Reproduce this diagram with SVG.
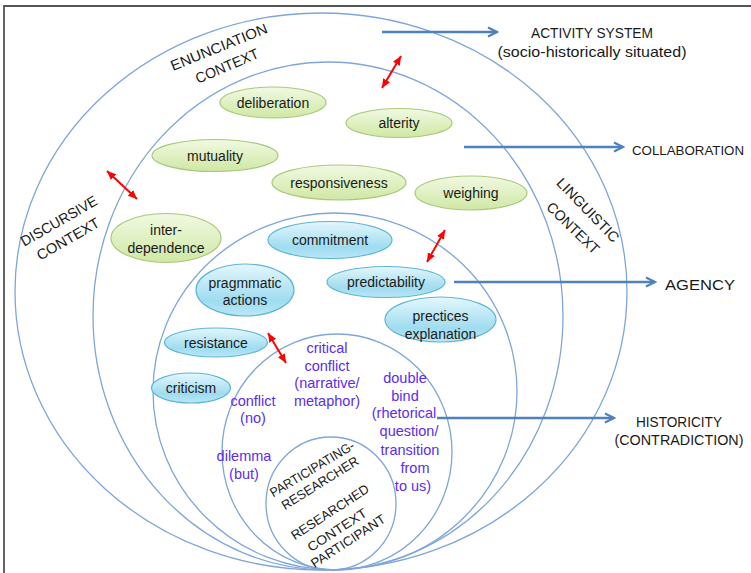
<svg xmlns="http://www.w3.org/2000/svg" width="751" height="573" viewBox="0 0 751 573">
<style>
  text { font-family: "Liberation Sans", Arial, sans-serif; fill: #1a1a1a; }
  .ring { fill: none; stroke: #7ea6d9; stroke-width: 1.3; }
  .green { fill: url(#gGreen); stroke: #a9c97a; stroke-width: 1.2; }
  .cyan { fill: url(#gCyan); stroke: #5fb6d2; stroke-width: 1.2; }
  .nt { font-size: 14px; text-anchor: middle; }
  .lbl { font-size: 15px; text-anchor: middle; }
  .rl { font-size: 14.5px; text-anchor: middle; }
  .in { font-size: 13px; text-anchor: middle; }
  .pt { font-size: 14.5px; text-anchor: middle; fill: #5b2cf2; }
  .blue { stroke: #4f81bd; stroke-width: 2.5; fill: none; marker-end: url(#mBlue); }
  .red { stroke: #ff0000; stroke-width: 2; fill: none; marker-start: url(#mRed); marker-end: url(#mRed); }
</style>
<defs>
  <linearGradient id="gGreen" x1="0" y1="0" x2="0" y2="1">
    <stop offset="0" stop-color="#f1f9e2"/>
    <stop offset="1" stop-color="#cfe8a4"/>
  </linearGradient>
  <linearGradient id="gCyan" x1="0" y1="0" x2="0" y2="1">
    <stop offset="0" stop-color="#e4f7fd"/>
    <stop offset="0.7" stop-color="#9fdcf0"/>
    <stop offset="1" stop-color="#b9e8f6"/>
  </linearGradient>
  <marker id="mBlue" markerUnits="userSpaceOnUse" viewBox="0 0 12 12" refX="10" refY="6" markerWidth="12" markerHeight="12" orient="auto">
    <path d="M1,1.5 L10,6 L1,10.5" fill="none" stroke="#4f81bd" stroke-width="2.2"/>
  </marker>
  <marker id="mRed" markerUnits="userSpaceOnUse" viewBox="0 0 10 10" refX="9" refY="5" markerWidth="10" markerHeight="10" orient="auto-start-reverse">
    <path d="M0,1 L9,5 L0,9 Z" fill="#ff0000"/>
  </marker>
</defs>
<rect width="751" height="573" fill="#ffffff"/>
<path d="M4,573 V6 H751" fill="none" stroke="#555555" stroke-width="1.8"/>

<g id="contexts">
  <ellipse id="enunciation-ring" class="ring" cx="321" cy="291.5" rx="306" ry="278.5"/>
  <ellipse id="discursive-ring" class="ring" cx="328" cy="316" rx="235" ry="254"/>
  <ellipse id="agency-ring" class="ring" cx="335" cy="391.5" rx="182" ry="178.5"/>
  <ellipse id="historicity-ring" class="ring" cx="337" cy="452" rx="115" ry="118"/>
  <ellipse id="researcher-ring" class="ring" cx="331" cy="503.5" rx="65" ry="66.5"/>
</g>

<g id="context-labels">
  <text class="rl" transform="translate(219,47) rotate(-22)" y="5" textLength="103" lengthAdjust="spacingAndGlyphs">ENUNCIATION</text>
  <text class="rl" transform="translate(227,66) rotate(-23)" y="5" textLength="67" lengthAdjust="spacingAndGlyphs">CONTEXT</text>
  <text class="rl" transform="translate(59,221) rotate(-30)" y="5" textLength="86" lengthAdjust="spacingAndGlyphs">DISCURSIVE</text>
  <text class="rl" transform="translate(68,239) rotate(-30)" y="5" textLength="70" lengthAdjust="spacingAndGlyphs">CONTEXT</text>
  <text class="rl" transform="translate(588,210) rotate(46)" y="5" textLength="83" lengthAdjust="spacingAndGlyphs">LINGUISTIC</text>
  <text class="rl" transform="translate(573,228) rotate(44)" y="5" textLength="67" lengthAdjust="spacingAndGlyphs">CONTEXT</text>
</g>

<g id="n-deliberation"><ellipse class="green" cx="273" cy="102.5" rx="53" ry="15.5"/><text class="nt" x="273" y="107.5">deliberation</text></g>
<g id="n-alterity"><ellipse class="green" cx="399" cy="123" rx="53" ry="14.5"/><text class="nt" x="399" y="128">alterity</text></g>
<g id="n-mutuality"><ellipse class="green" cx="215" cy="155.5" rx="63" ry="16"/><text class="nt" x="215" y="160.5">mutuality</text></g>
<g id="n-responsiveness"><ellipse class="green" cx="339" cy="182.5" rx="67" ry="17.5"/><text class="nt" x="339" y="187.5">responsiveness</text></g>
<g id="n-weighing"><ellipse class="green" cx="471" cy="193" rx="56" ry="17"/><text class="nt" x="471" y="198">weighing</text></g>
<g id="n-interdependence"><ellipse class="green" cx="166" cy="238" rx="55" ry="24.5"/><text class="nt" x="166" y="235">inter-</text><text class="nt" x="166" y="253">dependence</text></g>

<g id="n-commitment"><ellipse class="cyan" cx="330" cy="240" rx="62" ry="18.5"/><text class="nt" x="330" y="244.5">commitment</text></g>
<g id="n-pragmatic"><ellipse class="cyan" cx="245" cy="290" rx="49" ry="26"/><text class="nt" x="245" y="288">pragmmatic</text><text class="nt" x="245" y="305">actions</text></g>
<g id="n-predictability"><ellipse class="cyan" cx="386" cy="282" rx="59" ry="15.5"/><text class="nt" x="386" y="287">predictability</text></g>
<g id="n-prectices"><ellipse class="cyan" cx="440.5" cy="319.5" rx="55.5" ry="22.5"/><text class="nt" x="440.5" y="321">prectices</text><text class="nt" x="440.5" y="339">explanation</text></g>
<g id="n-resistance"><ellipse class="cyan" cx="216" cy="342.5" rx="51.5" ry="14.5"/><text class="nt" x="216" y="347.5">resistance</text></g>
<g id="n-criticism"><ellipse class="cyan" cx="191" cy="388" rx="39.5" ry="15"/><text class="nt" x="191" y="393">criticism</text></g>

<g id="n-critical-conflict">
  <text class="pt" x="327" y="353">critical</text>
  <text class="pt" x="327" y="370.5">conflict</text>
  <text class="pt" x="327" y="388">(narrative/</text>
  <text class="pt" x="327" y="405.5">metaphor)</text>
</g>
<g id="n-conflict"><text class="pt" x="253" y="405.5">conflict</text><text class="pt" x="253" y="423">(no)</text></g>
<g id="n-dilemma"><text class="pt" x="244" y="461">dilemma</text><text class="pt" x="244" y="478.5">(but)</text></g>
<g id="n-double-bind">
  <text class="pt" x="405" y="383">double</text>
  <text class="pt" x="405" y="400.5">bind</text>
  <text class="pt" x="404" y="418">(rhetorical</text>
  <text class="pt" x="409" y="436">question/</text>
  <text class="pt" x="410" y="455">transition</text>
  <text class="pt" x="415" y="473">from</text>
  <text class="pt" x="413" y="491">to us)</text>
</g>

<g id="n-researcher">
  <text class="in" transform="translate(312,469) rotate(-31)" y="4.5" textLength="96" lengthAdjust="spacingAndGlyphs">PARTICIPATING-</text>
  <text class="in" transform="translate(320,483) rotate(-32)" y="4.5" textLength="88" lengthAdjust="spacingAndGlyphs">RESEARCHER</text>
  <text class="in" transform="translate(330,512) rotate(-33)" y="4.5" textLength="90" lengthAdjust="spacingAndGlyphs">RESEARCHED</text>
  <text class="in" transform="translate(337,530) rotate(-33)" y="4.5" textLength="68" lengthAdjust="spacingAndGlyphs">CONTEXT</text>
  <text class="in" transform="translate(348,541) rotate(-33)" y="4.5" textLength="86" lengthAdjust="spacingAndGlyphs">PARTICIPANT</text>
</g>

<g id="outcome-labels">
  <text class="lbl" x="592" y="38" textLength="122" lengthAdjust="spacingAndGlyphs">ACTIVITY SYSTEM</text>
  <text class="lbl" x="592" y="57" textLength="189" lengthAdjust="spacingAndGlyphs">(socio-historically situated)</text>
  <text x="632" y="155" style="font-size:13.3px">COLLABORATION</text>
  <text class="lbl" x="665" y="290" style="text-anchor:start" textLength="70" lengthAdjust="spacingAndGlyphs">AGENCY</text>
  <text class="lbl" x="679" y="427" textLength="86" lengthAdjust="spacingAndGlyphs">HISTORICITY</text>
  <text class="lbl" x="679" y="445" textLength="129" lengthAdjust="spacingAndGlyphs">(CONTRADICTION)</text>
</g>

<g id="connectors">
  <line class="blue" x1="382" y1="32" x2="497" y2="32"/>
  <line class="blue" x1="464" y1="147" x2="623" y2="147"/>
  <line class="blue" x1="454" y1="282" x2="655" y2="282"/>
  <line class="blue" x1="437" y1="418" x2="614" y2="418"/>
  <line class="red" x1="382" y1="88" x2="401" y2="56"/>
  <line class="red" x1="107" y1="171" x2="137" y2="199"/>
  <line class="red" x1="427" y1="262" x2="445" y2="230"/>
  <line class="red" x1="268" y1="333" x2="286" y2="363"/>
</g>
</svg>
